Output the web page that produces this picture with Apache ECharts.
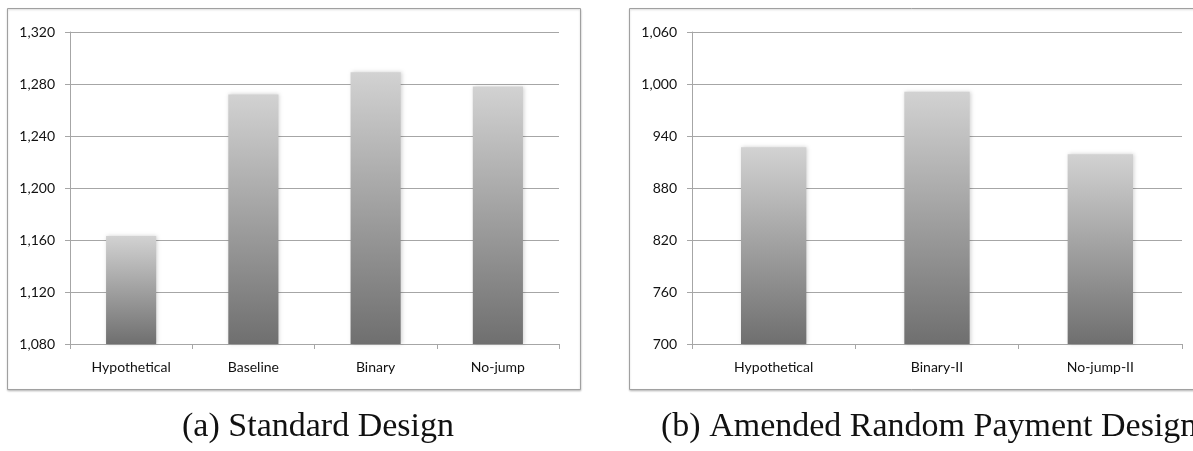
<!DOCTYPE html>
<html>
<head>
<meta charset="utf-8">
<script src="https://cdn.jsdelivr.net/npm/echarts@6/dist/echarts.min.js"></script>
<style>
  html, body { margin: 0; padding: 0; background: #fff; }
  #chart { width: 1193px; height: 451px; }
</style>
</head>
<body>
<div id="chart"></div>
<script>
// Panel (a): standard design
const catsA = ['Hypothetical', 'Baseline', 'Binary', 'No-jump'];
const valsA = [1163, 1272, 1289, 1278];
const yMinA = 1080, yMaxA = 1320, yStepA = 40;

// Panel (b): amended random payment design
const catsB = ['Hypothetical', 'Binary-II', 'No-jump-II'];
const valsB = [927, 991, 919];
const yMinB = 700, yMaxB = 1060, yStepB = 60;

const captions = ['(a) Standard Design', '(b) Amended Random Payment Design'];

const axisGray = '#a6a6a6';
const labelFont = 'Lato, "Open Sans", sans-serif';
const captionFont = '"Liberation Serif", "DejaVu Serif", serif';

const barFill = new echarts.graphic.LinearGradient(0, 0, 0, 1, [
  { offset: 0, color: '#d2d2d2' },
  { offset: 1, color: '#6f6f6f' }
]);

function fmt(v) { return v.toLocaleString('en-US'); }

function xAxisFor(cats, gridIndex) {
  return {
    type: 'category', gridIndex, data: cats,
    axisLine: { lineStyle: { color: axisGray, width: 1 } },
    axisTick: { show: true, length: 5, lineStyle: { color: axisGray } },
    axisLabel: { color: '#111', fontSize: 14, fontFamily: labelFont, margin: 16 }
  };
}
function yAxisFor(min, max, step, gridIndex) {
  return {
    type: 'value', gridIndex, min, max, interval: step,
    axisLine: { show: true, lineStyle: { color: axisGray, width: 1 } },
    axisTick: { show: true, length: 5, lineStyle: { color: axisGray } },
    splitLine: { lineStyle: { color: axisGray, width: 1 } },
    axisLabel: { color: '#111', fontSize: 14, fontFamily: labelFont, margin: 15, formatter: fmt }
  };
}
function barSeries(vals, idx, width) {
  return {
    type: 'bar', xAxisIndex: idx, yAxisIndex: idx, data: vals,
    barWidth: width,
    itemStyle: {
      color: barFill,
      shadowBlur: 4, shadowColor: 'rgba(0,0,0,0.18)', shadowOffsetX: 1, shadowOffsetY: 0
    },
    emphasis: { disabled: true },
    animation: false
  };
}

const chart = echarts.init(document.getElementById('chart'), null, { renderer: 'canvas' });
chart.setOption({
  backgroundColor: '#fff',
  animation: false,
  grid: [
    { left: 70, top: 32, width: 489, height: 312 },
    { left: 692, top: 32, width: 490, height: 312 }
  ],
  xAxis: [xAxisFor(catsA, 0), xAxisFor(catsB, 1)],
  yAxis: [yAxisFor(yMinA, yMaxA, yStepA, 0), yAxisFor(yMinB, yMaxB, yStepB, 1)],
  series: [barSeries(valsA, 0, '41%'), barSeries(valsB, 1, '40%')],
  title: [
    { text: captions[0], left: 313, top: 405, textAlign: 'center',
      textStyle: { fontFamily: captionFont, fontWeight: 'normal', fontSize: 34, color: '#111' } },
    { text: captions[1], left: 656, top: 405,
      textStyle: { fontFamily: captionFont, fontWeight: 'normal', fontSize: 34, color: '#111' } }
  ],
  graphic: [
    { type: 'rect', z: -1, shape: { x: 7.5, y: 8.5, width: 573, height: 381 },
      style: { fill: '#fff', stroke: '#a0a0a0', lineWidth: 1, shadowBlur: 2, shadowColor: 'rgba(0,0,0,0.2)', shadowOffsetY: 1 } },
    { type: 'rect', z: -1, shape: { x: 629.5, y: 8.5, width: 600, height: 381 },
      style: { fill: '#fff', stroke: '#a0a0a0', lineWidth: 1, shadowBlur: 2, shadowColor: 'rgba(0,0,0,0.2)', shadowOffsetY: 1 } }
  ]
});
</script>
</body>
</html>
